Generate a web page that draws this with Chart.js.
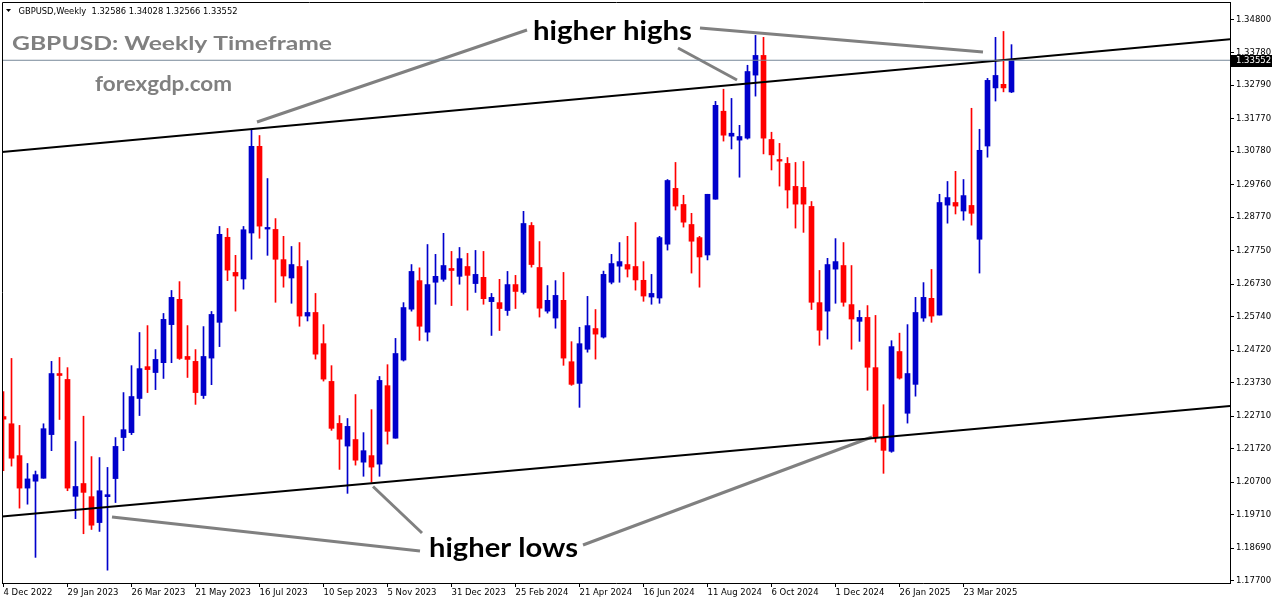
<!DOCTYPE html>
<html>
<head>
<meta charset="utf-8">
<title>GBPUSD Weekly</title>
<script src="https://cdn.jsdelivr.net/npm/chart.js@4.4.1/dist/chart.umd.min.js"></script>
<style>
  html, body { margin: 0; padding: 0; background: #fff; overflow: hidden; }
</style>
</head>
<body>
<canvas id="chart-gbpusd" width="1276" height="604"></canvas>
<script>
// weekly candles, 4 Dec 2022 .. 4 May 2025
const opens = [
  1.2270, 1.2248, 1.2151, 1.2052, 1.2073, 1.2082, 1.2215, 1.2401, 1.2383, 1.2027,
  1.2066, 1.2026, 1.1947, 1.2026, 1.2081, 1.2206, 1.2221, 1.2325, 1.2422, 1.2404,
  1.2434, 1.2550, 1.2627, 1.2453, 1.2438, 1.2334, 1.2448, 1.2557, 1.2816, 1.2709,
  1.2689, 1.2829, 1.3093, 1.2841, 1.2840, 1.2748, 1.2692, 1.2727, 1.2576, 1.2587,
  1.2492, 1.2377, 1.2249, 1.2180, 1.2200, 1.2131, 1.2151, 1.2125, 1.2364, 1.2204,
  1.2442, 1.2597, 1.2684, 1.2527, 1.2679, 1.2688, 1.2721, 1.2697, 1.2727, 1.2675,
  1.2694, 1.2620, 1.2617, 1.2593, 1.2672, 1.2648, 1.2852, 1.2724, 1.2591, 1.2570,
  1.2624, 1.2437, 1.2371, 1.2475, 1.2538, 1.2512, 1.2679, 1.2728, 1.2733, 1.2727,
  1.2685, 1.2634, 1.2631, 1.2795, 1.2965, 1.2916, 1.2855, 1.2815, 1.2762, 1.2932,
  1.3200, 1.3124, 1.3112, 1.3118, 1.3310, 1.3370, 1.3114, 1.3053, 1.3041, 1.2971,
  1.2968, 1.2910, 1.2617, 1.2591, 1.2719, 1.2730, 1.2611, 1.2560, 1.2572, 1.2419,
  1.2204, 1.2164, 1.2468, 1.2280, 1.2368, 1.2570, 1.2630, 1.2579, 1.2914, 1.2922,
  1.2896, 1.2913, 1.2810, 1.3094, 1.3271, 1.3282, 1.32586
];
const highs = [
  1.2346, 1.2447, 1.2243, 1.2127, 1.2104, 1.2248, 1.2438, 1.2450, 1.2419, 1.2194,
  1.2271, 1.2148, 1.2145, 1.2115, 1.2206, 1.2343, 1.2425, 1.2526, 1.2547, 1.2474,
  1.2584, 1.2654, 1.2681, 1.2547, 1.2474, 1.2544, 1.2590, 1.2849, 1.2843, 1.2761,
  1.2849, 1.3142, 1.3126, 1.2995, 1.2873, 1.2819, 1.2788, 1.2800, 1.2745, 1.2645,
  1.2550, 1.2425, 1.2273, 1.2264, 1.2337, 1.2221, 1.2291, 1.2392, 1.2428, 1.2508,
  1.2617, 1.2733, 1.2723, 1.2794, 1.2764, 1.2828, 1.2773, 1.2785, 1.2767, 1.2776,
  1.2773, 1.2645, 1.2688, 1.2712, 1.2700, 1.2895, 1.2861, 1.2803, 1.2669, 1.2684,
  1.2709, 1.2498, 1.2542, 1.2636, 1.2596, 1.2713, 1.2764, 1.2800, 1.2819, 1.2861,
  1.2742, 1.2703, 1.2819, 1.2992, 1.3044, 1.2944, 1.2889, 1.2819, 1.2947, 1.3230,
  1.3267, 1.3239, 1.3157, 1.3340, 1.3431, 1.3425, 1.3136, 1.3102, 1.3059, 1.3044,
  1.3047, 1.2925, 1.2715, 1.2752, 1.2812, 1.2800, 1.2730, 1.2593, 1.2608, 1.2578,
  1.2306, 1.2501, 1.2524, 1.2550, 1.2633, 1.2678, 1.2718, 1.2947, 1.2986, 1.3017,
  1.2992, 1.3209, 1.3145, 1.3300, 1.3425, 1.3443, 1.34028
];
const lows = [
  1.2105, 1.2119, 1.1991, 1.2003, 1.1841, 1.2082, 1.2166, 1.2261, 1.2044, 1.1959,
  1.1913, 1.1926, 1.1920, 1.1802, 1.2008, 1.2166, 1.2215, 1.2273, 1.2343, 1.2352,
  1.2386, 1.2434, 1.2444, 1.2389, 1.2307, 1.2325, 1.2367, 1.2483, 1.2684, 1.2591,
  1.2658, 1.2749, 1.2813, 1.2761, 1.2618, 1.2664, 1.2615, 1.2545, 1.2561, 1.2445,
  1.2378, 1.2228, 1.2109, 1.2036, 1.2122, 1.2088, 1.2070, 1.2088, 1.2186, 1.2204,
  1.2439, 1.2591, 1.2502, 1.2500, 1.2612, 1.2682, 1.2608, 1.2673, 1.2594, 1.2648,
  1.2612, 1.2517, 1.2532, 1.2578, 1.2599, 1.2643, 1.2725, 1.2573, 1.2585, 1.2539,
  1.2426, 1.2365, 1.2298, 1.2466, 1.2445, 1.2509, 1.2674, 1.2679, 1.2695, 1.2655,
  1.2621, 1.2612, 1.2615, 1.2777, 1.2899, 1.2847, 1.2707, 1.2664, 1.2747, 1.2932,
  1.3109, 1.3085, 1.2999, 1.3115, 1.3246, 1.3070, 1.3021, 1.2972, 1.2905, 1.2844,
  1.2831, 1.2596, 1.2487, 1.2506, 1.2615, 1.2606, 1.2475, 1.2499, 1.2350, 1.2192,
  1.2097, 1.2161, 1.2384, 1.2250, 1.2332, 1.2560, 1.2557, 1.2579, 1.2859, 1.2887,
  1.2868, 1.2853, 1.2707, 1.3060, 1.3231, 1.3259, 1.32566
];
const closes = [
  1.2262, 1.2143, 1.2052, 1.2080, 1.2093, 1.2233, 1.2401, 1.2395, 1.2052, 1.2057,
  1.2039, 1.1939, 1.2044, 1.2032, 1.2179, 1.2230, 1.2331, 1.2416, 1.2413, 1.2444,
  1.2566, 1.2633, 1.2447, 1.2444, 1.2343, 1.2453, 1.2581, 1.2825, 1.2716, 1.2698,
  1.2839, 1.3093, 1.2850, 1.2846, 1.2749, 1.2698, 1.2733, 1.2576, 1.2587, 1.2460,
  1.2384, 1.2234, 1.2201, 1.2240, 1.2137, 1.2166, 1.2116, 1.2380, 1.2225, 1.2462,
  1.2602, 1.2712, 1.2545, 1.2672, 1.2697, 1.2730, 1.2715, 1.2751, 1.2700, 1.2703,
  1.2629, 1.2633, 1.2599, 1.2672, 1.2651, 1.2858, 1.2733, 1.2600, 1.2624, 1.2639,
  1.2448, 1.2368, 1.2492, 1.2547, 1.2521, 1.2703, 1.2736, 1.2742, 1.2719, 1.2686,
  1.2637, 1.2645, 1.2815, 1.2989, 1.2911, 1.2862, 1.2804, 1.2756, 1.2947, 1.3218,
  1.3127, 1.3133, 1.3123, 1.3321, 1.3370, 1.3118, 1.3067, 1.3048, 1.2960, 1.2917,
  1.2917, 1.2618, 1.2533, 1.2733, 1.2742, 1.2618, 1.2567, 1.2572, 1.2420, 1.2207,
  1.2167, 1.2483, 1.2387, 1.2401, 1.2587, 1.2633, 1.2576, 1.2922, 1.2937, 1.2911,
  1.2943, 1.2889, 1.3081, 1.3294, 1.3309, 1.3271, 1.33552
];

// one date label every 8 weeks
const tickLabels = [
  '4 Dec 2022', '29 Jan 2023', '26 Mar 2023', '21 May 2023', '16 Jul 2023',
  '10 Sep 2023', '5 Nov 2023', '31 Dec 2023', '25 Feb 2024', '21 Apr 2024',
  '16 Jun 2024', '11 Aug 2024', '6 Oct 2024', '1 Dec 2024', '26 Jan 2025', '23 Mar 2025'
];
const priceTicks = [
  1.34800, 1.33780, 1.32790, 1.31770, 1.30780, 1.29760, 1.28770, 1.27750, 1.26730,
  1.25740, 1.24720, 1.23730, 1.22710, 1.21720, 1.20700, 1.19710, 1.18690, 1.17700
];
const lastPrice = 1.33552;

// channel lines: [bar index, price] at both ends
const upperChannel = [[-0.1875, 1.30758], [153.3125, 1.34191]];
const lowerChannel = [[-0.1875, 1.19655], [153.3125, 1.23024]];
// grey pointer lines
const pointers = [
  [[31.6875, 1.31672], [65.4375, 1.34474]],
  [[87.0625, 1.34535], [122.4375, 1.33804]],
  [[84.3125, 1.33926], [91.6875, 1.32951]],
  [[13.5625, 1.19640], [52.0625, 1.18604]],
  [[46.1875, 1.20569], [52.3125, 1.19153]],
  [[72.4375, 1.18787], [108.5625, 1.22077]]
];

const BLUE = '#0000CC';
const RED = '#FF0000';
const tickIdx = tickLabels.map((_, k) => k * 8);
const candleColor = (c) => closes[c.dataIndex] >= opens[c.dataIndex] ? BLUE : RED;
const toPts = (arr) => arr.map(p => ({ x: p[0], y: p[1] }));

const lineSet = (pts, color, width) => ({
  type: 'line',
  data: toPts(pts),
  borderColor: color,
  borderWidth: width,
  pointRadius: 0,
  fill: false,
  order: 0
});

const datasets = [
  {
    label: 'wicks',
    data: opens.map((o, i) => ({ x: i, y: [lows[i], highs[i]] })),
    backgroundColor: candleColor,
    barThickness: 1,
    grouped: false,
    order: 3
  },
  {
    label: 'bodies',
    data: opens.map((o, i) => ({ x: i, y: [o, closes[i]] })),
    backgroundColor: candleColor,
    barThickness: 5,
    minBarLength: 1,
    grouped: false,
    order: 2
  },
  lineSet([[-0.1875, lastPrice], [153.3125, lastPrice]], '#778899', 1),
  lineSet(upperChannel, '#000000', 2),
  lineSet(lowerChannel, '#000000', 2)
].concat(pointers.map(p => lineSet(p, '#808080', 3)));

function fitText(ctx, txt, x, base, w, font, color) {
  ctx.font = font;
  ctx.fillStyle = color;
  ctx.textAlign = 'left';
  ctx.textBaseline = 'alphabetic';
  const m = ctx.measureText(txt).width;
  ctx.save();
  ctx.translate(x, base);
  ctx.scale(w / m, 1);
  ctx.fillText(txt, 0, 0);
  ctx.restore();
}

const mtDecor = {
  id: 'mtDecor',
  afterDraw(chart) {
    const ctx = chart.ctx;
    const a = chart.chartArea;
    ctx.save();
    // frame top / left
    ctx.strokeStyle = '#000';
    ctx.lineWidth = 1;
    ctx.beginPath();
    ctx.moveTo(2.5, a.bottom);
    ctx.lineTo(2.5, 2.5);
    ctx.lineTo(a.right + 0.5, 2.5);
    ctx.stroke();

    // current price box
    const py = chart.scales.y.getPixelForValue(lastPrice);
    ctx.fillStyle = '#000';
    ctx.fillRect(a.right + 1, Math.round(py) - 5, 41, 12);
    ctx.fillStyle = '#fff';
    ctx.font = '8.5px "DejaVu Sans"';
    ctx.textBaseline = 'middle';
    ctx.fillText(lastPrice.toFixed(5), 1236, py + 1);

    // header
    ctx.fillStyle = '#000';
    ctx.beginPath();
    ctx.moveTo(6, 9); ctx.lineTo(11, 9); ctx.lineTo(8.5, 12); ctx.closePath();
    ctx.fill();
    fitText(ctx, 'GBPUSD,Weekly  ' + [opens[126], highs[126], lows[126], closes[126]].map(v => v.toFixed(5)).join(' '),
      18.5, 14, 219, '8.5px "DejaVu Sans"', '#000');

    fitText(ctx, 'GBPUSD: Weekly Timeframe', 12, 50, 320, 'bold 19.5px Lato', '#808080');
    fitText(ctx, 'forexgdp.com', 95, 91, 137, 'bold 20px Lato', '#808080');
    fitText(ctx, 'higher highs', 533, 40, 159, 'bold 26px Lato', '#000');
    fitText(ctx, 'higher lows', 429, 557, 149, 'bold 26px Lato', '#000');
    ctx.restore();
  }
};

Chart.defaults.font.family = '"DejaVu Sans"';
Chart.defaults.font.size = 8.5;
Chart.defaults.color = '#000';

const gbpusdChart = new Chart(document.getElementById('chart-gbpusd'), {
  type: 'bar',
  data: { datasets: datasets },
  options: {
    responsive: false,
    animation: false,
    events: [],
    layout: { padding: { left: 2, top: 2, right: 0, bottom: 0 } },
    plugins: { legend: { display: false }, tooltip: { enabled: false } },
    scales: {
      x: {
        type: 'linear',
        min: -0.1875,
        max: 153.3125,
        offset: false,
        grid: { display: true, drawOnChartArea: false, offset: false, tickLength: 4, color: '#000' },
        border: { display: true, color: '#000' },
        ticks: {
          autoSkip: false,
          maxRotation: 0,
          align: 'start',
          padding: 1,
          callback: (v) => {
            const k = tickIdx.indexOf(v);
            return k >= 0 ? tickLabels[k] : '';
          }
        },
        afterBuildTicks: (s) => { s.ticks = tickIdx.map(v => ({ value: v })); },
        afterFit: (s) => { s.height = 21; s.paddingLeft = 0; s.paddingRight = 0; }
      },
      y: {
        type: 'linear',
        position: 'right',
        min: 1.176295,
        max: 1.353270,
        grid: { display: true, drawOnChartArea: false, tickLength: 4, color: '#000' },
        border: { display: true, color: '#000' },
        ticks: {
          padding: 2,
          callback: (v) => Number(v).toFixed(5)
        },
        afterBuildTicks: (s) => { s.ticks = priceTicks.map(v => ({ value: v })); },
        afterFit: (s) => { s.width = 46; s.paddingTop = 0; s.paddingBottom = 0; }
      }
    }
  },
  plugins: [mtDecor]
});
</script>
</body>
</html>
